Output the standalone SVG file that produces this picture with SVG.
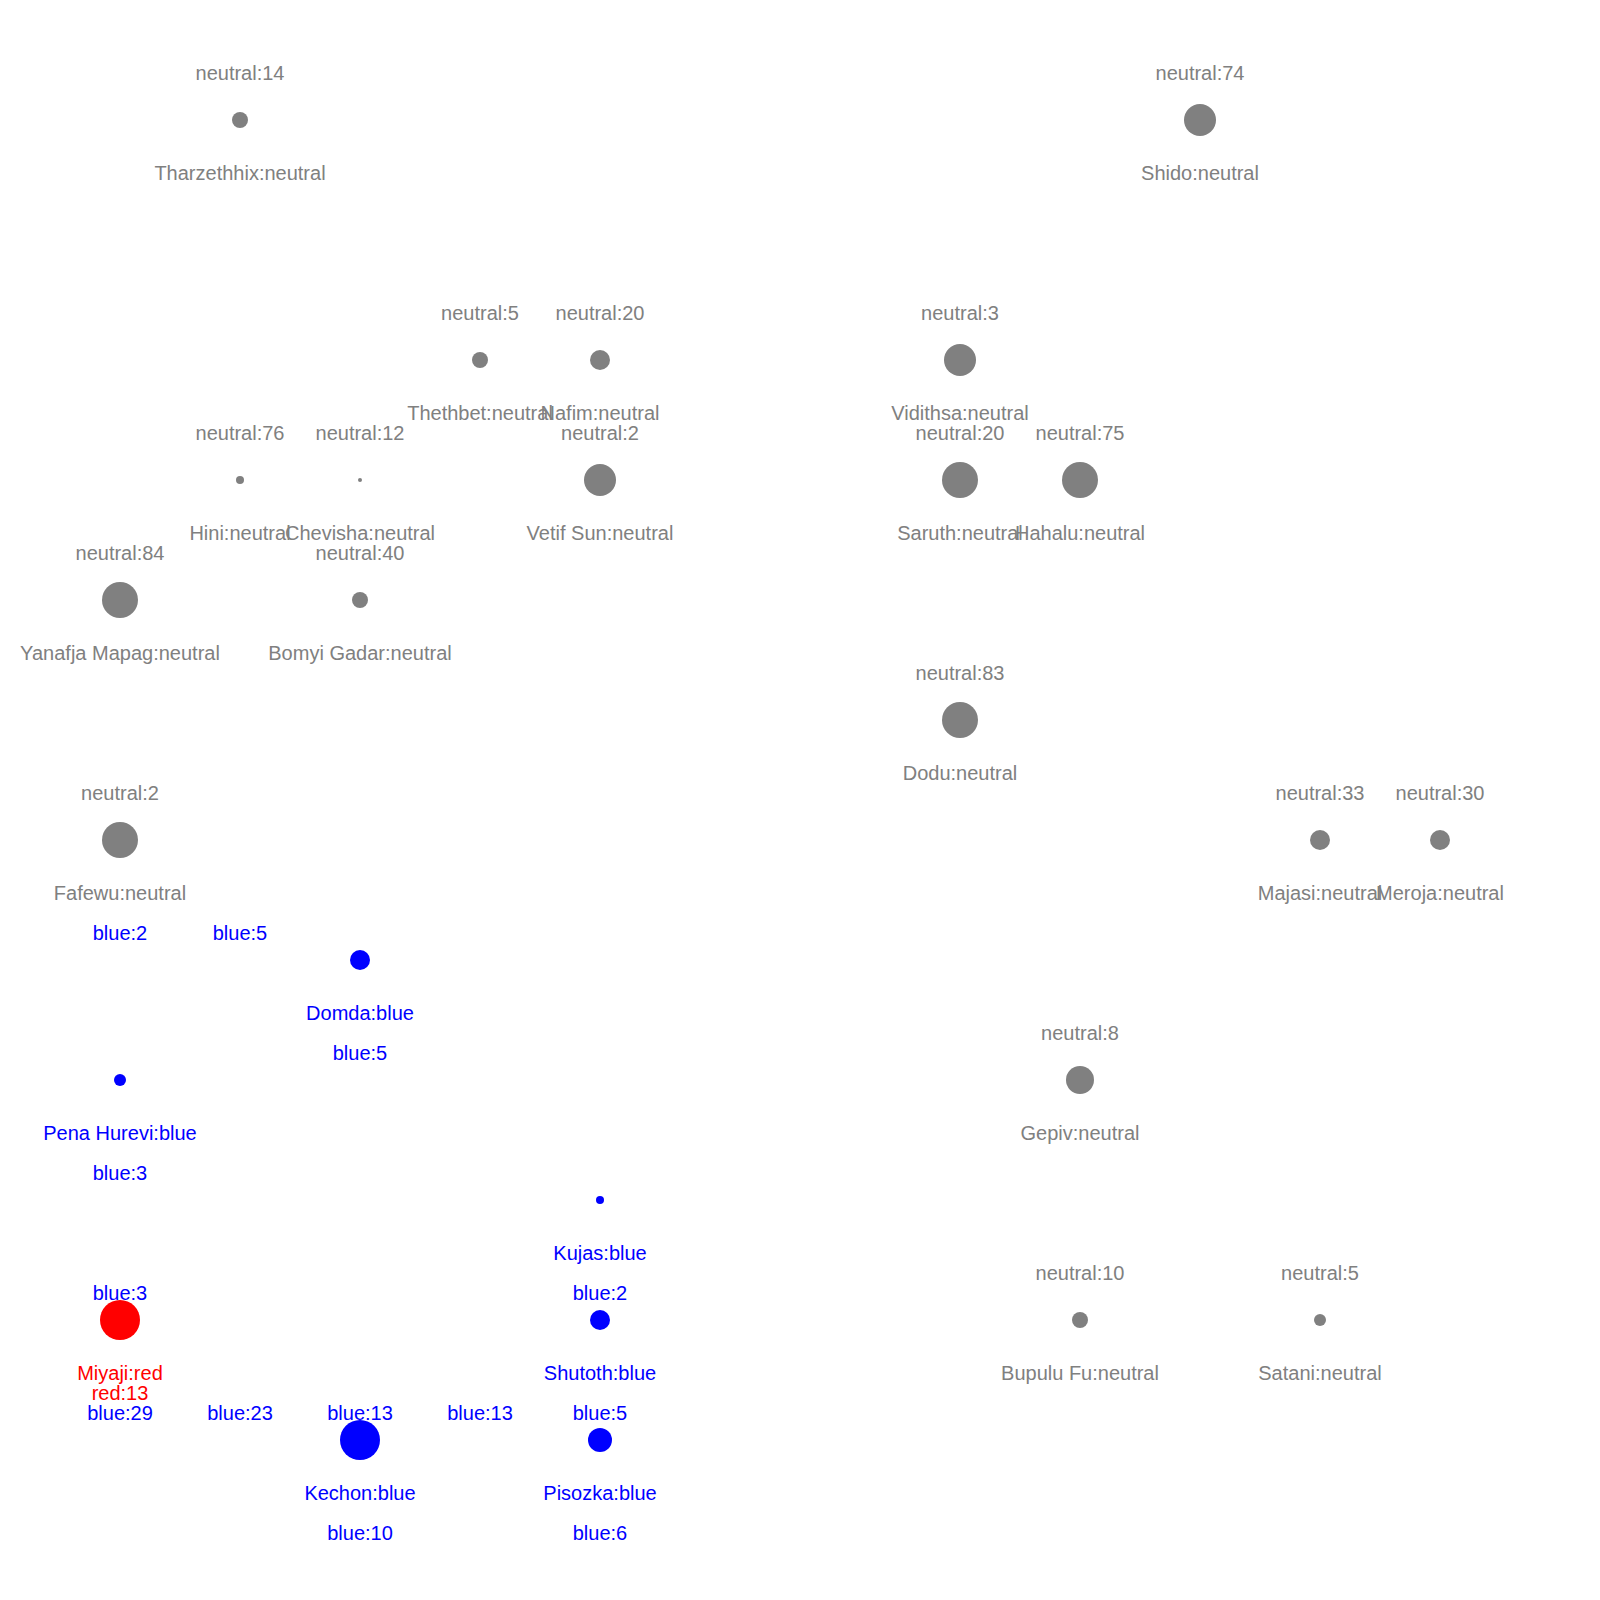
<svg xmlns="http://www.w3.org/2000/svg" width="1600" height="1600" viewBox="0 0 1600 1600">
<style>
text{font-family:"Liberation Sans",Arial,Helvetica,sans-serif;font-size:20px;text-anchor:middle}
.n{fill:#808080}.b{fill:#0000ff}.r{fill:#ff0000}
</style>
<rect width="1600" height="1600" fill="#ffffff"/>
<g id="connectors"/>
<g id="nodes">
<g id="tharzethhix"><circle class="n" cx="240" cy="120" r="8"/><text class="n" x="240" y="80">neutral:14</text><text class="n" x="240" y="180">Tharzethhix:neutral</text></g>
<g id="shido"><circle class="n" cx="1200" cy="120" r="16"/><text class="n" x="1200" y="80">neutral:74</text><text class="n" x="1200" y="180">Shido:neutral</text></g>
<g id="thethbet"><circle class="n" cx="480" cy="360" r="8"/><text class="n" x="480" y="320">neutral:5</text><text class="n" x="480" y="420">Thethbet:neutral</text></g>
<g id="nafim"><circle class="n" cx="600" cy="360" r="10"/><text class="n" x="600" y="320">neutral:20</text><text class="n" x="600" y="420">Nafim:neutral</text></g>
<g id="vidithsa"><circle class="n" cx="960" cy="360" r="16"/><text class="n" x="960" y="320">neutral:3</text><text class="n" x="960" y="420">Vidithsa:neutral</text></g>
<g id="hini"><circle class="n" cx="240" cy="480" r="4"/><text class="n" x="240" y="440">neutral:76</text><text class="n" x="240" y="540">Hini:neutral</text></g>
<g id="chevisha"><circle class="n" cx="360" cy="480" r="2"/><text class="n" x="360" y="440">neutral:12</text><text class="n" x="360" y="540">Chevisha:neutral</text></g>
<g id="vetif-sun"><circle class="n" cx="600" cy="480" r="16"/><text class="n" x="600" y="440">neutral:2</text><text class="n" x="600" y="540">Vetif Sun:neutral</text></g>
<g id="saruth"><circle class="n" cx="960" cy="480" r="18"/><text class="n" x="960" y="440">neutral:20</text><text class="n" x="960" y="540">Saruth:neutral</text></g>
<g id="hahalu"><circle class="n" cx="1080" cy="480" r="18"/><text class="n" x="1080" y="440">neutral:75</text><text class="n" x="1080" y="540">Hahalu:neutral</text></g>
<g id="yanafja-mapag"><circle class="n" cx="120" cy="600" r="18"/><text class="n" x="120" y="560">neutral:84</text><text class="n" x="120" y="660">Yanafja Mapag:neutral</text></g>
<g id="bomyi-gadar"><circle class="n" cx="360" cy="600" r="8"/><text class="n" x="360" y="560">neutral:40</text><text class="n" x="360" y="660">Bomyi Gadar:neutral</text></g>
<g id="dodu"><circle class="n" cx="960" cy="720" r="18"/><text class="n" x="960" y="680">neutral:83</text><text class="n" x="960" y="780">Dodu:neutral</text></g>
<g id="fafewu"><circle class="n" cx="120" cy="840" r="18"/><text class="n" x="120" y="800">neutral:2</text><text class="n" x="120" y="900">Fafewu:neutral</text><text class="b" x="120" y="940">blue:2</text></g>
<g id="node-240-840"><text class="b" x="240" y="940">blue:5</text></g>
<g id="majasi"><circle class="n" cx="1320" cy="840" r="10"/><text class="n" x="1320" y="800">neutral:33</text><text class="n" x="1320" y="900">Majasi:neutral</text></g>
<g id="meroja"><circle class="n" cx="1440" cy="840" r="10"/><text class="n" x="1440" y="800">neutral:30</text><text class="n" x="1440" y="900">Meroja:neutral</text></g>
<g id="domda"><circle class="b" cx="360" cy="960" r="10"/><text class="b" x="360" y="1020">Domda:blue</text><text class="b" x="360" y="1060">blue:5</text></g>
<g id="pena-hurevi"><circle class="b" cx="120" cy="1080" r="6"/><text class="b" x="120" y="1140">Pena Hurevi:blue</text><text class="b" x="120" y="1180">blue:3</text></g>
<g id="gepiv"><circle class="n" cx="1080" cy="1080" r="14"/><text class="n" x="1080" y="1040">neutral:8</text><text class="n" x="1080" y="1140">Gepiv:neutral</text></g>
<g id="kujas"><circle class="b" cx="600" cy="1200" r="4"/><text class="b" x="600" y="1260">Kujas:blue</text><text class="b" x="600" y="1300">blue:2</text></g>
<g id="node-120-1200"><text class="b" x="120" y="1300">blue:3</text></g>
<g id="miyaji"><circle class="r" cx="120" cy="1320" r="20"/><text class="r" x="120" y="1380">Miyaji:red</text><text class="r" x="120" y="1400">red:13</text><text class="b" x="120" y="1420">blue:29</text></g>
<g id="node-240-1320"><text class="b" x="240" y="1420">blue:23</text></g>
<g id="node-360-1320"><text class="b" x="360" y="1420">blue:13</text></g>
<g id="node-480-1320"><text class="b" x="480" y="1420">blue:13</text></g>
<g id="shutoth"><circle class="b" cx="600" cy="1320" r="10"/><text class="b" x="600" y="1380">Shutoth:blue</text><text class="b" x="600" y="1420">blue:5</text></g>
<g id="bupulu-fu"><circle class="n" cx="1080" cy="1320" r="8"/><text class="n" x="1080" y="1280">neutral:10</text><text class="n" x="1080" y="1380">Bupulu Fu:neutral</text></g>
<g id="satani"><circle class="n" cx="1320" cy="1320" r="6"/><text class="n" x="1320" y="1280">neutral:5</text><text class="n" x="1320" y="1380">Satani:neutral</text></g>
<g id="kechon"><circle class="b" cx="360" cy="1440" r="20"/><text class="b" x="360" y="1500">Kechon:blue</text><text class="b" x="360" y="1540">blue:10</text></g>
<g id="pisozka"><circle class="b" cx="600" cy="1440" r="12"/><text class="b" x="600" y="1500">Pisozka:blue</text><text class="b" x="600" y="1540">blue:6</text></g>
</g>
</svg>
